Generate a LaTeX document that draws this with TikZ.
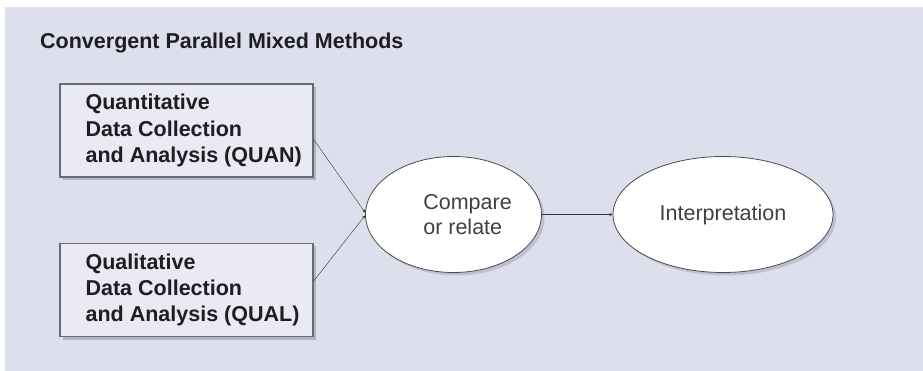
\documentclass[tikz,border=0pt]{standalone}
\usepackage{fontspec}
\setmainfont{Liberation Sans}
\usetikzlibrary{arrows,shapes.geometric,shadows,positioning}
\definecolor{panelbg}{RGB}{221,223,236}
\definecolor{boxfill}{RGB}{233,234,244}
\definecolor{boxline}{RGB}{105,106,120}
\definecolor{shadowc}{RGB}{178,180,200}
\definecolor{inkc}{RGB}{30,30,32}
\tikzset{
    flow/.style={->, >=stealth, thin, draw=inkc!90}, % connectors
    databox/.style={draw=boxline, line width=1.2pt, fill=boxfill, minimum width=253pt, minimum height=93pt, inner sep=0pt,
        drop shadow={shadow xshift=3pt, shadow yshift=-3pt, fill=shadowc, opacity=1}},
    boxtext/.style={anchor=west, inner sep=0pt, xshift=26pt, align=left, text=inkc, font=\bfseries\fontsize{21.5}{26.3}\selectfont},
    stage/.style={ellipse, draw=inkc!80, line width=0.8pt, fill=white, inner sep=0pt, minimum height=116pt, align=center,
        text=inkc!85, font=\fontsize{21.5}{25}\selectfont,
        drop shadow={shadow xshift=3pt, shadow yshift=-3pt, fill=shadowc, opacity=0.7}},
    stagetext/.style={anchor=west, inner sep=0pt, xshift=58pt, align=left, text=inkc!85, font=\fontsize{21.5}{25}\selectfont},
}
\begin{document}
\begin{tikzpicture}[x=1pt, y=-1pt]
    \useasboundingbox (0,0) rectangle (923,371);
    \fill[panelbg] (5,7) rectangle (923,371);

    \node[anchor=base west, inner sep=0pt, text=inkc, font=\bfseries\fontsize{21.5}{24}\selectfont] (title) at (40,49) {Convergent Parallel Mixed Methods};

    \node[databox, label={[boxtext]west:Quantitative\\Data Collection\\and Analysis (QUAN)}] (quan) at (186.5,130.5) {};
    \node[databox, label={[boxtext]west:Qualitative\\Data Collection\\and Analysis (QUAL)}] (qual) at (186.5,290) {};

    \node[stage, minimum width=176pt, label={[stagetext]west:Compare\\or relate}] (cmp) at (453.5,214.5) {};
    \node[stage, minimum width=220pt] (interp) at (723,214.5) {Interpretation};

    \draw[flow] (quan.-4.3) -- ([yshift=2pt]cmp.west);
    \draw[flow] (qual.4.5) -- ([yshift=-1pt]cmp.west);
    \draw[flow] (cmp) -- (interp);
\end{tikzpicture}
\end{document}
